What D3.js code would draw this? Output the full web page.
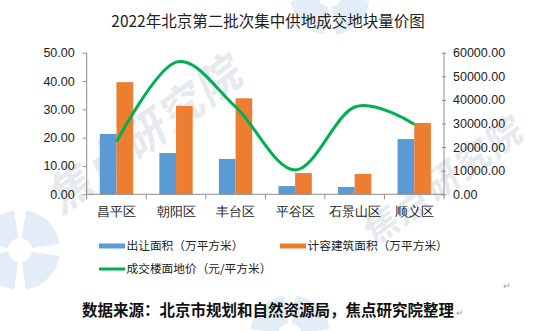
<!DOCTYPE html>
<html><head><meta charset="utf-8">
<script src="https://cdn.jsdelivr.net/npm/d3@7"></script>
<style>body{margin:0;background:#fff;} svg{display:block;font-family:"Microsoft YaHei","Noto Sans CJK SC",sans-serif;}</style>
</head><body>
<script>
const categories = ["昌平区","朝阳区","丰台区","平谷区","石景山区","顺义区"];
const landArea = [21.3, 14.6, 12.5, 2.9, 2.6, 19.5];
const buildArea = [39.6, 31.2, 33.9, 7.5, 7.2, 25.2];
const floorPrice = [22300, 56000, 37000, 10300, 37000, 29700];
const leftTicks = [0,10,20,30,40,50];
const rightTicks = [0,10000,20000,30000,40000,50000,60000];
const seriesNames = ["出让面积（万平方米）","计容建筑面积（万平方米）","成交楼面地价（元/平方米）"];
const colors = ["#5B9BD5","#ED7D31","#00B050"];

const W=538,H=331;
const svg=d3.select("body").append("svg").attr("width",W).attr("height",H);
const L=86.7,R=444,T=52.7,B=194.3;

// watermark
const wm=svg.append("g").attr("class","watermark");
const wedge=(r0,r1,a0,a1)=>d3.arc()({innerRadius:r0,outerRadius:r1,startAngle:a0,endAngle:a1});
[[330,-5],[20,250],[290,335]].forEach(([cx,cy])=>{
  const g=wm.append("g").attr("transform",`translate(${cx},${cy})`);
  for(let i=0;i<4;i++){
    g.append("path").attr("d",wedge(12,40,i*Math.PI/2+0.15,(i+1)*Math.PI/2-0.15)).attr("fill","#d6e6f4").attr("opacity",0.7);
  }
});
[[60,215,44],[372,248,36]].forEach(([x,y,s])=>{
  wm.append("text").attr("transform",`translate(${x},${y}) rotate(-36) skewX(-12)`).attr("font-size",s).attr("font-weight","bold")
    .attr("fill","#e6e9ee").attr("letter-spacing",2).text("焦点研究院");
});

const x=d3.scaleBand().domain(categories).range([L,R]);
const gw=x.bandwidth()*0.56;
const x1=d3.scaleBand().domain([0,1]).range([(x.bandwidth()-gw)/2,(x.bandwidth()+gw)/2]);
const yL=d3.scaleLinear().domain([0,50]).range([B,T]);
const yR=d3.scaleLinear().domain([0,60000]).range([B,T]);

// title
svg.append("text").attr("x",268).attr("y",27).attr("text-anchor","middle").attr("font-size",15.5).attr("fill","#222").text("2022年北京第二批次集中供地成交地块量价图");

// bars
[landArea,buildArea].forEach((arr,si)=>{
  svg.append("g").selectAll("rect").data(arr).join("rect")
    .attr("x",(d,i)=>x(categories[i])+x1(si)).attr("width",x1.bandwidth())
    .attr("y",d=>yL(d)).attr("height",d=>B-yL(d)).attr("fill",colors[si]);
});

// axes
const axColor="#8c8c8c";
const la=svg.append("g").attr("transform",`translate(${L},0)`).call(d3.axisLeft(yL).tickValues(leftTicks).tickFormat(d3.format(".2f")).tickSize(4).tickPadding(8));
const ra=svg.append("g").attr("transform",`translate(${R},0)`).call(d3.axisRight(yR).tickValues(rightTicks).tickFormat(d3.format(".2f")).tickSize(4).tickPadding(5));
[la,ra].forEach(a=>{a.select(".domain").attr("stroke",axColor).attr("d",`M0,${T}V${B}`);
  a.selectAll(".tick line").attr("stroke",axColor);
  a.selectAll(".tick text").attr("font-size",12.5).attr("fill","#222").attr("font-family","Liberation Sans, Arial, sans-serif");});
ra.selectAll(".tick line").attr("x1",-2).attr("x2",2);
la.selectAll(".tick line").attr("x2",-4);

const ba=svg.append("g").attr("transform",`translate(0,${B})`).call(d3.axisBottom(x).tickSize(0).tickPadding(13));
ba.select(".domain").attr("stroke",axColor).attr("d",`M${L},0H${R}`);
ba.selectAll(".tick text").attr("font-size",12.5).attr("fill","#222");
const bounds=categories.map(c=>x(c)).concat([R]);
svg.append("g").selectAll("line").data(bounds).join("line")
  .attr("x1",d=>d).attr("x2",d=>d).attr("y1",B).attr("y2",B+5).attr("stroke",axColor);

// line
const line=d3.line().x((d,i)=>x(categories[i])+x.bandwidth()/2).y(d=>yR(d)).curve(d3.curveCardinal.tension(0));
svg.append("path").datum(floorPrice).attr("d",line).attr("fill","none").attr("stroke",colors[2]).attr("stroke-width",3);

// legend
const lg=svg.append("g").attr("font-size",11.7).attr("fill","#222");
const items=[{x:99,y:246,t:"rect",c:colors[0],n:seriesNames[0]},{x:280,y:246,t:"rect",c:colors[1],n:seriesNames[1]},{x:99,y:269,t:"line",c:colors[2],n:seriesNames[2]}];
items.forEach(it=>{
  if(it.t==="rect") lg.append("rect").attr("x",it.x).attr("y",it.y-2.5).attr("width",26).attr("height",5).attr("fill",it.c);
  else lg.append("line").attr("x1",it.x).attr("x2",it.x+26).attr("y1",it.y).attr("y2",it.y).attr("stroke",it.c).attr("stroke-width",3);
  lg.append("text").attr("x",it.x+27.5).attr("y",it.y).attr("dy","0.36em").text(it.n);
});

// source
svg.append("text").attr("x",268).attr("y",316).attr("text-anchor","middle").attr("font-size",15.5).attr("font-weight","bold").attr("fill","#111").text("数据来源：北京市规划和自然资源局，焦点研究院整理");
svg.append("text").attr("x",456).attr("y",316).attr("font-size",9).attr("fill","#999").text("↵");
svg.append("text").attr("x",503).attr("y",289).attr("font-size",9).attr("fill","#999").text("↵");
</script>
</body></html>
